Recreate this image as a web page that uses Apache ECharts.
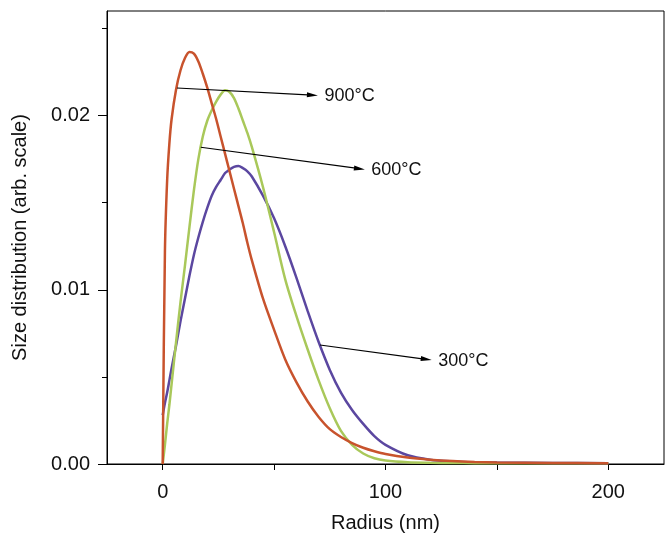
<!DOCTYPE html>
<html>
<head>
<meta charset="utf-8">
<script src="https://cdn.jsdelivr.net/npm/echarts@6/dist/echarts.min.js"></script>
<style>
html,body{margin:0;padding:0;background:#fff;}
#chart{width:665px;height:536px;}
</style>
</head>
<body>
<div id="chart"></div>
<script>
// Radius (nm) sample positions
var radius = [0, 1, 2, 3, 4, 6, 8, 10, 12, 14, 16, 18, 20, 22, 24, 26, 28, 30, 32, 34, 36, 38, 40, 45, 50, 55, 60, 65, 70, 75, 80, 85, 90, 95, 100, 110, 120, 130, 140, 150, 175, 200];
// 900°C (red)
var dist900 = [0, 0.0122, 0.0163, 0.0184, 0.0198, 0.0215, 0.0226, 0.0233, 0.02365, 0.02355, 0.0231, 0.0224, 0.0216, 0.0207, 0.0198, 0.0188, 0.0178, 0.0168, 0.0158, 0.0148, 0.0138, 0.0127, 0.0117, 0.0095, 0.0077, 0.0060, 0.0047, 0.0036, 0.0027, 0.0020, 0.00155, 0.0012, 0.00093, 0.00073, 0.00057, 0.00037, 0.00025, 0.00017, 0.00012, 0.00009, 0.00006, 0.00005];
// 600°C (green)
var dist600 = [0, 0.0011, 0.0023, 0.0034, 0.0046, 0.0070, 0.0093, 0.0114, 0.0136, 0.0157, 0.0175, 0.0188, 0.0197, 0.0203, 0.0208, 0.0212, 0.02145, 0.02135, 0.0210, 0.0204, 0.0197, 0.0190, 0.0182, 0.0159, 0.0133, 0.0106, 0.0085, 0.0066, 0.0048, 0.0032, 0.0019, 0.0011, 0.0006, 0.00033, 0.0002, 0.0001, 0.00007, 0.00006, 0.00005, 0.00005, 0.00005, 0.00005];
// 300°C (purple)
var dist300 = [0.0028, 0.0035, 0.0041, 0.0048, 0.0055, 0.0068, 0.0082, 0.0095, 0.0108, 0.0120, 0.0130, 0.0139, 0.0147, 0.0154, 0.0159, 0.0163, 0.0167, 0.0169, 0.01705, 0.0171, 0.01698, 0.0168, 0.0165, 0.0154, 0.0141, 0.0125, 0.0107, 0.0088, 0.0070, 0.0054, 0.0041, 0.0031, 0.0023, 0.0016, 0.0011, 0.0005, 0.00025, 0.00015, 0.0001, 0.00008, 0.00006, 0.00005];

var xTickValues = [0, 50, 100, 150, 200];
var xLabelValues = [0, 100, 200];
var yMajorValues = [0, 0.01, 0.02];
var yMinorValues = [0.005, 0.015, 0.025];

// annotation arrows (data units): start points, end points, texts
var annoStart = [[6.4, 0.02158], [17.1, 0.01818], [70.6, 0.00683]];
var annoEnd = [[67.2, 0.02117], [88.3, 0.01695], [118.3, 0.00601]];
var annoText = ['900°C', '600°C', '300°C'];

function pairs(xs, ys){ return xs.map(function(x,i){ return [x, ys[i]]; }); }

var FONT = '"Liberation Sans", Arial, sans-serif';
var chart = echarts.init(document.getElementById('chart'), null, {renderer:'canvas'});

var markData = annoStart.map(function(s, i){
  return [
    {coord: s, symbol: 'none'},
    {coord: annoEnd[i], symbol: 'triangle', symbolSize: [5, 11],
     label: {show: true, position: 'end', formatter: annoText[i], distance: 12,
             color: '#111', fontSize: 18, fontFamily: FONT, padding: [3, 0, 0, 0]}}
  ];
});

var option = {
  animation: false,
  backgroundColor: '#fff',
  grid: {left: 107, top: 11, right: 1, bottom: 72, outerBoundsMode: 'none', containLabel: false,
         show: true, borderColor: '#000', borderWidth: 1, backgroundColor: 'transparent'},
  xAxis: {
    type: 'value', min: -25, max: 225,
    name: 'Radius (nm)', nameLocation: 'middle', nameGap: 49,
    nameTextStyle: {color: '#111', fontSize: 20, fontFamily: FONT},
    axisLine: {show: true, onZero: false, lineStyle: {color: '#000', width: 1}},
    axisTick: {show: true, length: 6, customValues: xTickValues, lineStyle: {color: '#000'}},
    axisLabel: {customValues: xLabelValues, margin: 18, color: '#111', fontSize: 20, fontFamily: FONT},
    splitLine: {show: false}
  },
  yAxis: [{
    type: 'value', min: 0, max: 0.026,
    name: 'Size distribution (arb. scale)', nameLocation: 'middle', nameGap: 77,
    nameTextStyle: {color: '#111', fontSize: 20, fontFamily: FONT},
    axisLine: {show: true, onZero: false, lineStyle: {color: '#000', width: 1}},
    axisTick: {show: true, length: 9, customValues: yMajorValues, lineStyle: {color: '#000'}},
    axisLabel: {customValues: yMajorValues, margin: 17, color: '#111', fontSize: 20, fontFamily: FONT,
                formatter: function(v){ return v.toFixed(2); }},
    splitLine: {show: false}
  },{
    type: 'value', min: 0, max: 0.026, position: 'left', offset: 0,
    axisLine: {show: false, onZero: false},
    axisTick: {show: true, length: 5, customValues: yMinorValues, lineStyle: {color: '#000'}},
    axisLabel: {show: false},
    splitLine: {show: false}
  }],
  series: [
    {type: 'line', name: '300°C', data: pairs(radius, dist300), showSymbol: false, smooth: 0.3,
     lineStyle: {color: '#5b47a0', width: 2.5}, itemStyle: {color: '#5b47a0'}, z: 2},
    {type: 'line', name: '600°C', data: pairs(radius, dist600), showSymbol: false, smooth: 0.3,
     lineStyle: {color: '#a9c85a', width: 2.5}, itemStyle: {color: '#a9c85a'}, z: 3},
    {type: 'line', name: '900°C', data: pairs(radius, dist900), showSymbol: false, smooth: 0.3,
     lineStyle: {color: '#c8532d', width: 2.5}, itemStyle: {color: '#c8532d'}, z: 4,
     markLine: {silent: true, animation: false, symbol: ['none', 'triangle'],
       lineStyle: {color: '#000', width: 1.2, type: 'solid'},
       itemStyle: {color: '#000'},
       label: {show: true},
       emphasis: {disabled: true},
       data: markData}}
  ]
};
chart.setOption(option);
</script>
</body>
</html>
